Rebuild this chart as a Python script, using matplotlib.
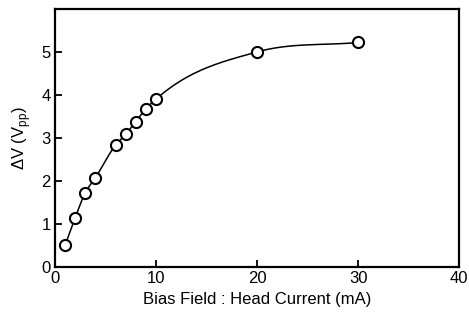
import numpy as np
import matplotlib
matplotlib.use("Agg")
from matplotlib import pyplot as plt

# data
current_mA = [1, 2, 3, 4, 6, 7, 8, 9, 10, 20, 30]
delta_v = [0.50, 1.14, 1.72, 2.07, 2.83, 3.08, 3.38, 3.68, 3.90, 5.00, 5.22]

x_ticks = [0, 10, 20, 30, 40]
y_ticks = [0, 1, 2, 3, 4, 5]

plt.rcParams['font.family'] = ['Liberation Sans', 'DejaVu Sans']
plt.rcParams['mathtext.fontset'] = 'custom'
plt.rcParams['mathtext.rm'] = 'Liberation Sans'


def smooth_line(x, y, n=30):
    """Cubic Hermite curve through the measured points, only for drawing"""
    x = np.asarray(x, float)
    y = np.asarray(y, float)
    # slopes at each point (finite differences)
    m = np.gradient(y, x)
    xs, ys = [], []
    for i in range(len(x) - 1):
        h = x[i + 1] - x[i]
        t = np.linspace(0, 1, n)
        h00 = 2 * t**3 - 3 * t**2 + 1
        h10 = t**3 - 2 * t**2 + t
        h01 = -2 * t**3 + 3 * t**2
        h11 = t**3 - t**2
        xs.append(x[i] + t * h)
        ys.append(h00 * y[i] + h10 * h * m[i] + h01 * y[i + 1] + h11 * h * m[i + 1])
    return np.concatenate(xs), np.concatenate(ys)


fig = plt.figure(figsize=(4.69, 3.2), dpi=100)
ax = fig.add_axes([0.117, 0.166, 0.862, 0.806])

xs, ys = smooth_line(current_mA, delta_v)
ax.plot(xs, ys, color='black', lw=1.1, zorder=2)
ax.plot(current_mA, delta_v, 'o', ms=8, mfc='white', mec='black',
        mew=1.5, zorder=3)

ax.set_xlim(0, 40)
ax.set_ylim(0, 6)
ax.set_xticks(x_ticks)
ax.set_yticks(y_ticks)
ax.tick_params(direction='in', length=5, width=1.3, labelsize=12, pad=3)
for s in ax.spines.values():
    s.set_linewidth(1.6)

ax.set_xlabel('Bias Field : Head Current (mA)', fontsize=12, labelpad=4)
ax.set_ylabel('ΔV (V$_{\\mathrm{pp}}$)', fontsize=12, labelpad=6)

fig.savefig('out.png', dpi=100)
